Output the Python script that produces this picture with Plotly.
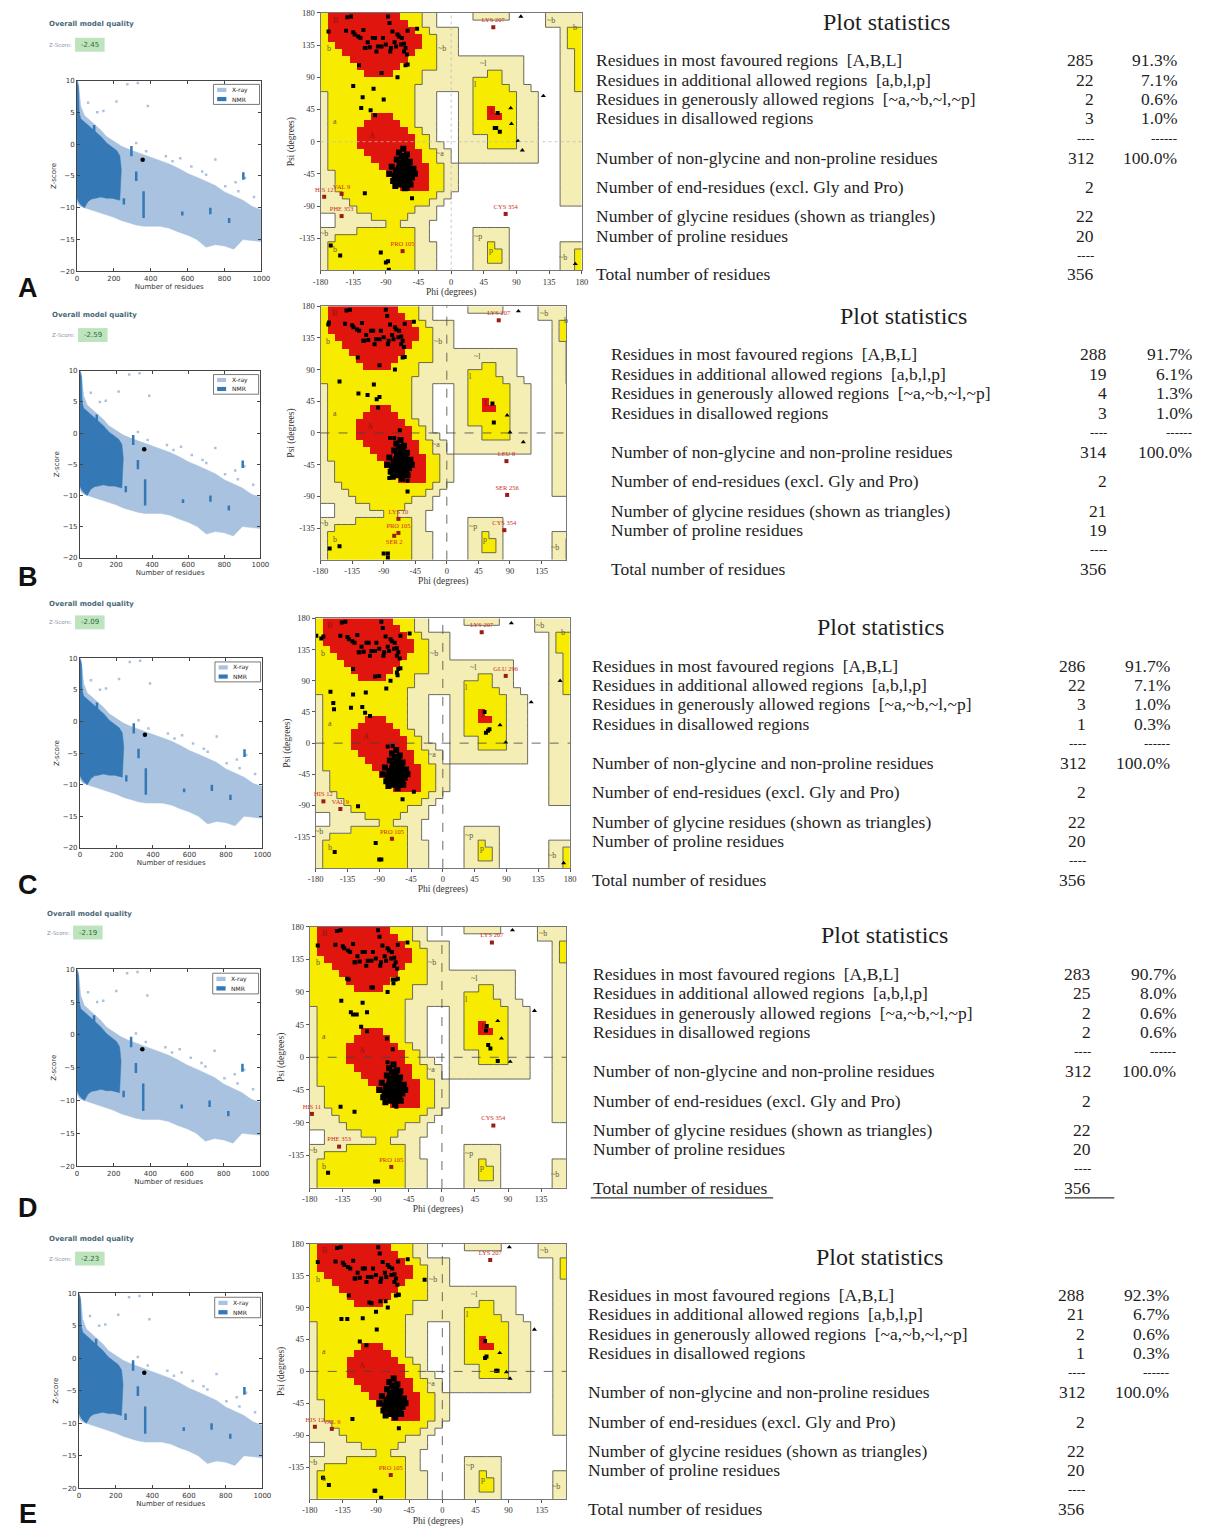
import plotly.graph_objects as go

W, H = 1214, 1530
SERIF = "Liberation Serif, Times New Roman, serif"
SANS = "DejaVu Sans, Arial, sans-serif"

# ---------------------------------------------------------------- data
PANEL_LETTERS = ["A", "B", "C", "D", "E"]
Z_SCORES = [-2.45, -2.59, -2.09, -2.19, -2.23]
MODEL_RESIDUES = 356

# ProSA reference cloud (envelopes)
XRAY_N = [0, 8, 20, 40, 60, 90, 130, 160, 200, 240, 280, 320, 360, 400, 450, 500,
          550, 600, 650, 700, 750, 800, 850, 900, 950, 1000]
XRAY_UPPER = [10, 9.5, 6, 4.5, 4, 3.2, 2.2, 1.2, 0.5, -0.3, -0.8, -1.2, -1.6, -2.0,
              -2.6, -3.1, -3.8, -4.6, -5.2, -5.8, -6.5, -7.5, -8.2, -8.8, -9.8, -10.3]
XRAY_LOWER = [-9, -9.5, -9.8, -10, -10.2, -10.4, -10.8, -11.1, -11.5, -12.0, -12.4,
              -12.7, -12.9, -12.9, -12.9, -13.2, -13.8, -14.3, -15.0, -16.2, -15.8,
              -16.0, -16.5, -15.0, -15.2, -15.3]
NMR_N = [0, 8, 12, 20, 40, 60, 80, 100, 130, 160, 190, 215, 232, 240]
NMR_UPPER = [10, 9, 5, 4, 3.5, 3, 2.5, 2, 1.2, 0.2, -0.5, -1, -1.8, -4]
NMR_LOWER = [-8.5, -9, -9.2, -9.5, -10, -9, -8.6, -8.5, -8.3, -8.5, -8.5, -8.7, -8.8, -4]
NMR_STREAK_N = [93, 254, 295, 321, 361, 571, 723, 825, 902]
NMR_STREAK_LO = [1.5, -9.5, -1.9, -5.8, -11.6, -11.2, -11.0, -12.4, -5.6]
NMR_STREAK_HI = [3.0, -8.5, -0.3, -4.3, -7.4, -10.6, -10.0, -11.6, -4.4]
XRAY_OUT_N = [143, 214, 384, 273, 330, 411, 482, 518, 750, 679, 804, 911, 875, 482,
              375, 321, 429, 60, 110, 560, 620, 700, 860, 960]
XRAY_OUT_Z = [5.2, 6.7, 6.0, 9.4, 9.6, -3.2, -1.9, -2.7, -2.4, -4.3, -6.6, -5.3, -7.4,
              -4.8, -1.1, 0.2, -2.7, 6.5, 5.0, -2.2, -3.5, -4.8, -6.0, -8.3]

# Ramachandran region map, 10 deg cells; rows psi 180->-180, cols phi -180->180
# R core, Y allowed, L generous, . disallowed
REGION_ROWS = [
    "Y" + "R"*10 + "Y"*3 + "L"*2 + "."*5 + "L"*5 + "."*5 + "L"*5,
    "Y" + "R"*11 + "Y"*2 + "L"*2 + "."*15 + "L"*5,
    "Y" + "R"*12 + "Y"*2 + "L"*4 + "."*14 + "L" + "Y"*2,
    "Y" + "R"*13 + "Y"*2 + "L"*3 + "."*14 + "L" + "Y"*2,
    "YY" + "R"*12 + "Y"*2 + "L"*3 + "."*14 + "L" + "Y"*2,
    "YYY" + "R"*10 + "Y"*3 + "L"*3 + "."*14 + "L"*2 + "Y",
    "Y"*4 + "R"*8 + "Y"*4 + "L"*12 + "."*5 + "L"*2 + "Y",
    "Y"*5 + "R"*6 + "Y"*5 + "L"*12 + "."*5 + "L"*2 + "Y",
    "Y"*6 + "R"*4 + "Y"*4 + "L"*9 + "Y"*2 + "L"*3 + "."*5 + "L"*2 + "Y",
    "Y"*14 + "L"*7 + "Y"*4 + "L"*3 + "."*5 + "L"*2 + "Y",
    "Y"*13 + "L"*8 + "Y"*5 + "L"*3 + "."*4 + "L"*2 + "Y",
    "L" + "Y"*12 + "L"*3 + "."*3 + "L"*2 + "Y"*6 + "L"*3 + "."*3 + "L"*3,
    "L" + "Y"*12 + "L"*3 + "."*3 + "L"*2 + "Y"*6 + "L"*3 + "."*3 + "L"*3,
    "L" + "Y"*12 + "L"*3 + "."*3 + "L"*2 + "Y"*2 + "R" + "Y"*3 + "L"*3 + "."*3 + "L"*3,
    "L" + "Y"*6 + "R"*3 + "Y"*3 + "L"*3 + "."*3 + "L"*2 + "Y"*2 + "R"*2 + "Y"*2 + "L"*3 + "."*3 + "L"*3,
    "L" + "Y"*5 + "R"*5 + "Y"*2 + "L"*3 + "."*3 + "L"*2 + "Y"*6 + "L"*3 + "."*3 + "L"*3,
    "L" + "Y"*4 + "R"*7 + "Y"*2 + "L"*2 + "."*3 + "L"*2 + "Y"*6 + "L"*3 + "."*3 + "L"*3,
    "L" + "Y"*4 + "R"*8 + "Y"*2 + "L" + "."*3 + "L"*4 + "Y"*4 + "L"*3 + "."*3 + "L"*3,
    "L" + "Y"*4 + "R"*8 + "Y"*2 + "L"*2 + "."*2 + "L"*4 + "Y"*4 + "L"*3 + "."*3 + "L"*3,
    "L" + "Y"*5 + "R"*8 + "Y"*2 + "L"*2 + "." + "L"*11 + "."*3 + "L"*3,
    "L" + "Y"*6 + "R"*7 + "Y"*2 + "L"*2 + "." + "L"*11 + "."*3 + "L"*3,
    "L" + "Y"*7 + "R"*7 + "Y"*2 + "L"*2 + "."*14 + "L"*3,
    "L"*2 + "Y"*7 + "R"*6 + "Y"*2 + "L"*2 + "."*14 + "L"*3,
    "L"*2 + "Y"*8 + "R"*5 + "Y"*2 + "L"*2 + "."*14 + "L"*3,
    "L"*2 + "Y"*9 + "R"*4 + "Y"*2 + "L"*2 + "."*14 + "L"*3,
    "L"*3 + "Y"*13 + "L"*2 + "."*15 + "L"*3,
    "L"*4 + "Y"*11 + "L"*2 + "."*16 + "L"*3,
    "L"*5 + "Y"*8 + "L"*3 + "."*20,
    "."*2 + "L"*5 + "Y"*5 + "L"*4 + "."*20,
    "."*2 + "L"*7 + "Y"*2 + "L"*4 + "."*21,
    "L"*5 + "Y"*8 + "L"*2 + "."*6 + "L"*5 + "."*10,
    "L"*2 + "Y"*11 + "L"*2 + "."*6 + "L"*5 + "."*10,
    "L" + "Y"*12 + "L"*3 + "."*5 + "L"*2 + "Y" + "L"*2 + "."*7 + "L"*3,
    "L" + "Y"*12 + "L"*3 + "."*5 + "L"*2 + "Y"*2 + "L" + "."*7 + "L"*2 + "Y",
    "L" + "Y"*12 + "L"*3 + "."*5 + "L"*2 + "Y"*2 + "L" + "."*7 + "L"*2 + "Y",
    "L" + "Y"*12 + "L"*3 + "."*5 + "L"*5 + "."*7 + "L"*2 + "Y",
]
REGION_TEXT = ["B", "b", "a", "A", "~b", "~a", "~l", "l", "L", "~p", "p", "~b", "b", "~b", "b", "~b"]
REGION_TEXT_PHI = [-160, -169, -160, -109, -13, -15, 44, 34, 57, 37, 55, 138, 170, -175, -160, 154]
REGION_TEXT_PSI = [170, 130, 28, 9, 130, -17, 109, 80, 42, -133, -152, 170, 160, -128, -151, -162]

# residues shared by all models (beta sheet and helix core)
BETA_PHI = [-138, -143, -169, -145, -135, -128, -125, -119, -112, -108, -105, -96, -87, -85,
            -81, -74, -72, -68, -65, -63, -69, -76, -84, -60, -47, -61, -60, -63, -127, -96,
            -74, -90, -101, -103, -118, -115, -121, -94, -83, -78, -65, -133]
BETA_PSI = [175, 174, 154, 155, 153, 147, 145, 131, 132, 145, 145, 133, 175, 166, 154, 150,
            147, 145, 137, 131, 136, 133, 126, 155, 158, 122, 108, 107, 107, 96, 90, 136, 133,
            126, 131, 139, 156, 145, 131, 139, 126, 150]
HELIX_PHI = [-65, -62, -68, -60, -66, -70, -58, -63, -67, -72, -61, -64, -69, -57, -55, -74,
             -71, -66, -60, -63, -58, -67, -62, -73, -76, -54, -59, -65, -69, -62, -78, -80,
             -70, -56, -52, -75, -68, -61, -82, -77, -64, -50, -72, -66, -85, -57, -70, -63,
             -67, -60]
HELIX_PSI = [-40, -42, -38, -45, -47, -43, -38, -35, -33, -37, -50, -52, -50, -46, -42, -45,
             -30, -28, -30, -25, -55, -57, -60, -53, -40, -50, -34, -44, -46, -37, -48, -55,
             -60, -60, -38, -25, -20, -18, -35, -62, -65, -45, -15, -10, -45, -28, -55, -47,
             -42, -40]

# model-specific residues
OTHER_A_PHI = [-135, -122, -107, -124, -111, -105, -93, -119, -54, -60, -166, -153, -97, -90, -87, -86, 64, 60, 62, 67]
OTHER_A_PSI = [78, 62, 74, 47, 44, 37, 59, -72, -79, -66, -145, -159, -155, -169, -167, -179, 40, 19, 19, 14]
OTHER_B_PHI = [-153, -126, -113, -104, -100, -96, -98, -67, -81, -75, -82, -56, -56, -167, -153, -90, -84, -84, 65, 67, -168]
OTHER_B_PSI = [73, 56, 54, 69, 48, 51, 36, 4, -7, -7, -64, -83, -68, -164, -161, -171, -177, -171, 42, 15, 157]
OTHER_C_PHI = [-179, -172, -159, -155, -154, -127, -130, -114, -109, -110, -103, -80, -90, -65, -64, -78, -71, -57, -41, -120, -153, -95, -90, -87, 59, 61, 64, 66]
OTHER_C_PSI = [155, 151, 74, 58, 49, 70, 51, 52, 73, 44, 39, 79, 97, 102, 98, -5, -4, -81, -70, -91, -157, -144, -168, -168, 45, 15, 18, 20]
OTHER_D_PHI = [-137, -108, -124, -121, -116, -102, -110, -102, -75, -67, -74, -138, -119, -62, -155, -91, -87, -67, -66, -94, -129, 61, 60, 63, 66, 76]
OTHER_D_PSI = [78, 75, 62, 59, 59, 62, 42, 36, 26, 11, -7, -68, -75, -68, -159, -171, -171, 107, 102, 96, 108, 43, 37, 17, 12, -5]
OTHER_E_PHI = [-137, -129, -108, -90, -89, -112, -103, -84, -77, -99, -24, -59, -122, -59, -162, -154, -92, -91, -83, 58, 58, 60, 73, 75]
OTHER_E_PSI = [74, 74, 75, 84, 59, 42, 37, 99, 99, 97, 129, 108, -67, -80, -150, -160, -168, -168, -178, 43, 19, 21, 1, 1]

GLY_A_PHI = [96, 127, 82, 83, 92, 98, 171]
GLY_A_PSI = [175, 64, 47, 25, 1, -12, -171]
GLY_B_PHI = [102, 86, 90, 109]
GLY_B_PSI = [173, 25, 1, -13]
GLY_C_PHI = [97, 166, 125, 81, 89, 171]
GLY_C_PSI = [173, 90, 59, 26, 1, -173]
GLY_D_PHI = [96, 126, 76, 81, 93]
GLY_D_PSI = [175, 64, 50, 26, -6]
GLY_E_PHI = [91, 125, 78, 87, 92]
GLY_E_PSI = [175, 59, 26, -1, -10]

FLAG_A_NAME = ["LYS 207", "HIS 12", "VAL 9", "PHE 353", "CYS 354", "PRO 105"]
FLAG_A_PHI = [58, -175, -151, -151, 75, -67]
FLAG_A_PSI = [160, -77, -73, -104, -101, -153]
FLAG_B_NAME = ["LYS 207", "LEU 8", "SER 256", "CYS 354", "LYS 10", "PRO 105", "SER 2"]
FLAG_B_PHI = [74, 85, 86, 82, -69, -69, -75]
FLAG_B_PSI = [160, -40, -88, -138, -122, -142, -146]
FLAG_C_NAME = ["LYS 207", "GLU 296", "HIS 12", "VAL 9", "PRO 105"]
FLAG_C_PHI = [55, 89, -169, -145, -72]
FLAG_C_PSI = [160, 97, -84, -95, -138]
FLAG_D_NAME = ["LYS 207", "HIS 11", "PHE 353", "PRO 105", "CYS 354"]
FLAG_D_PHI = [68, -177, -140, -69, 70]
FLAG_D_PSI = [158, -78, -123, -151, -94]
FLAG_E_NAME = ["LYS 207", "HIS 12", "VAL 9", "PRO 105"]
FLAG_E_PHI = [65, -173, -150, -70]
FLAG_E_PSI = [157, -78, -81, -146]

# Plot statistics
STAT_LABELS = ["Residues in most favoured regions\u00a0\u00a0[A,B,L]",
               "Residues in additional allowed regions\u00a0\u00a0[a,b,l,p]",
               "Residues in generously allowed regions\u00a0\u00a0[~a,~b,~l,~p]",
               "Residues in disallowed regions",
               "Number of non-glycine and non-proline residues",
               "Number of end-residues (excl. Gly and Pro)",
               "Number of glycine residues (shown as triangles)",
               "Number of proline residues",
               "Total number of residues"]
COUNTS_A = [285, 22, 2, 3, 312, 2, 22, 20, 356]
COUNTS_B = [288, 19, 4, 3, 314, 2, 21, 19, 356]
COUNTS_C = [286, 22, 3, 1, 312, 2, 22, 20, 356]
COUNTS_D = [283, 25, 2, 2, 312, 2, 22, 20, 356]
COUNTS_E = [288, 21, 2, 1, 312, 2, 22, 20, 356]
PCT_A = [91.3, 7.1, 0.6, 1.0, 100.0]
PCT_B = [91.7, 6.1, 1.3, 1.0, 100.0]
PCT_C = [91.7, 7.1, 1.0, 0.3, 100.0]
PCT_D = [90.7, 8.0, 0.6, 0.6, 100.0]
PCT_E = [92.3, 6.7, 0.6, 0.3, 100.0]

OTHERS = [(OTHER_A_PHI, OTHER_A_PSI), (OTHER_B_PHI, OTHER_B_PSI), (OTHER_C_PHI, OTHER_C_PSI),
          (OTHER_D_PHI, OTHER_D_PSI), (OTHER_E_PHI, OTHER_E_PSI)]
GLYS = [(GLY_A_PHI, GLY_A_PSI), (GLY_B_PHI, GLY_B_PSI), (GLY_C_PHI, GLY_C_PSI),
        (GLY_D_PHI, GLY_D_PSI), (GLY_E_PHI, GLY_E_PSI)]
FLAGS = [(FLAG_A_NAME, FLAG_A_PHI, FLAG_A_PSI), (FLAG_B_NAME, FLAG_B_PHI, FLAG_B_PSI),
         (FLAG_C_NAME, FLAG_C_PHI, FLAG_C_PSI), (FLAG_D_NAME, FLAG_D_PHI, FLAG_D_PSI),
         (FLAG_E_NAME, FLAG_E_PHI, FLAG_E_PSI)]
COUNTS = [COUNTS_A, COUNTS_B, COUNTS_C, COUNTS_D, COUNTS_E]
PCTS = [PCT_A, PCT_B, PCT_C, PCT_D, PCT_E]

# ---------------------------------------------------------------- layout (pixel positions)
POS = [
    dict(head=(40, 19), badge=(68, 98, 40), prosa=(70, 257, 76, 268), rama=(317, 582, 8, 267), phimax=180,
         letter=285, stat=(594, 1103, 1188, 891, 17)),
    dict(head=(43, 312), badge=(71, 101, 332), prosa=(73, 256, 368, 556), rama=(317, 566, 303, 558), phimax=170,
         letter=575, stat=(610, 1117, 1203, 908, 313)),
    dict(head=(40, 603), badge=(68, 98, 621), prosa=(73, 258, 657, 848), rama=(312, 570, 617, 868), phimax=180,
         letter=885, stat=(590, 1095, 1181, 885, 626)),
    dict(head=(38, 914), badge=(66, 96, 933), prosa=(70, 256, 970, 1168), rama=(306, 566, 927, 1190), phimax=169,
         letter=1210, stat=(591, 1100, 1187, 889, 936)),
    dict(head=(40, 1241), badge=(68, 98, 1261), prosa=(72, 258, 1296, 1492), rama=(306, 566, 1246, 1503), phimax=168,
         letter=1518, stat=(586, 1094, 1180, 884, 1259)),
]
ROW_OFF = [38.5, 58, 77.5, 97, 136.5, 166, 195.5, 215, 254]
DASH_OFF = [117, 234.5]

XRAY_C = "#a8c2df"
NMR_C = "#3479b6"
RED = "#e0150e"
YEL = "#f7ec00"
LIGHT = "#f4eeb4"
TXT = "#1e1e1e"
STAT_FS = 17.5

fig = go.Figure()
shapes, annos = [], []
layout = dict(width=W, height=H, margin=dict(l=0, r=0, t=0, b=0), paper_bgcolor="white",
              plot_bgcolor="white", showlegend=False)


def px(x):
    return x / W


def py(y):
    return 1 - y / H


def akey(p, n):
    return p + "axis" + ("" if n == 1 else str(n))


def aref(p, n):
    return p + ("" if n == 1 else str(n))


def note(x, y, text, size, color, family=SERIF, xanchor="left", xref="paper", yref="paper"):
    annos.append(dict(xref=xref, yref=yref, x=x, y=y, text=text, showarrow=False,
                      xanchor=xanchor, yanchor="middle", font=dict(family=family, size=size, color=color)))


code = {".": 0, "L": 1, "Y": 2, "R": 3}
grid = [[code[ch] for ch in (r + "." * 36)[:36]] for r in REGION_ROWS[:36]]
cx = [-175 + 10 * c for c in range(36)]
cy = [175 - 10 * r for r in range(36)]
bx, by = [], []
for r in range(36):
    for c in range(36):
        v = grid[r][c]
        if c < 35:
            w = grid[r][c + 1]
            if v != w and {v, w} != {2, 3}:
                xe = -180 + 10 * (c + 1)
                bx += [xe, xe, None]
                by += [180 - 10 * r, 170 - 10 * r, None]
        if r < 35:
            w = grid[r + 1][c]
            if v != w and {v, w} != {2, 3}:
                ye = 170 - 10 * r
                bx += [-180 + 10 * c, -170 + 10 * c, None]
                by += [ye, ye, None]

cscale = [[0, "white"], [0.1667, "white"], [0.1667, LIGHT], [0.5, LIGHT], [0.5, YEL],
          [0.8333, YEL], [0.8333, RED], [1, RED]]

for i, letter in enumerate(PANEL_LETTERS):
    P = POS[i]
    na, nb = 2 * i + 1, 2 * i + 2
    xa, ya, xb, yb = aref("x", na), aref("y", na), aref("x", nb), aref("y", nb)

    # ----- ProSA panel
    l, r, t, b = P["prosa"]
    layout[akey("x", na)] = dict(domain=[px(l), px(r)], anchor=ya, range=[0, 1000],
                                 tickvals=[0, 200, 400, 600, 800, 1000], ticks="inside", ticklen=3,
                                 tickfont=dict(family=SANS, size=7, color="#333"), showline=True,
                                 mirror="ticks", linecolor="#444", linewidth=1, showgrid=False,
                                 zeroline=False,
                                 title=dict(text="Number of residues", font=dict(family=SANS, size=7, color="#333"),
                                            standoff=0))
    layout[akey("y", na)] = dict(domain=[py(b), py(t)], anchor=xa, range=[-20, 10],
                                 tickvals=[-20, -15, -10, -5, 0, 5, 10],
                                 ticktext=["\u221220", "\u221215", "\u221210", "\u22125", "0", "5", "10"],
                                 ticks="inside", ticklen=3, tickfont=dict(family=SANS, size=7, color="#333"),
                                 showline=True, mirror="ticks", linecolor="#444", linewidth=1, showgrid=False,
                                 zeroline=False,
                                 title=dict(text="Z-score", font=dict(family=SANS, size=7, color="#333"), standoff=2))
    fig.add_trace(go.Scatter(x=XRAY_N + XRAY_N[::-1], y=XRAY_UPPER + XRAY_LOWER[::-1], fill="toself",
                             fillcolor=XRAY_C, line=dict(width=0.5, color=XRAY_C), mode="lines",
                             xaxis=xa, yaxis=ya, hoverinfo="skip"))
    fig.add_trace(go.Scatter(x=XRAY_OUT_N, y=XRAY_OUT_Z, mode="markers",
                             marker=dict(symbol="square", size=2.5, color=XRAY_C), xaxis=xa, yaxis=ya))
    fig.add_trace(go.Scatter(x=NMR_N + NMR_N[::-1], y=NMR_UPPER + NMR_LOWER[::-1], fill="toself",
                             fillcolor=NMR_C, line=dict(width=0.5, color=NMR_C), mode="lines",
                             xaxis=xa, yaxis=ya, hoverinfo="skip"))
    sx, sy = [], []
    for n_, lo, hi in zip(NMR_STREAK_N, NMR_STREAK_LO, NMR_STREAK_HI):
        sx += [n_, n_, None]
        sy += [lo, hi, None]
    fig.add_trace(go.Scatter(x=sx, y=sy, mode="lines", line=dict(color=NMR_C, width=2.5),
                             xaxis=xa, yaxis=ya))
    fig.add_trace(go.Scatter(x=[MODEL_RESIDUES], y=[Z_SCORES[i]], mode="markers",
                             marker=dict(symbol="circle", size=4.5, color="black"), xaxis=xa, yaxis=ya))
    # legend
    dx, dy = f"{xa} domain", f"{ya} domain"
    shapes.append(dict(type="rect", xref=dx, yref=dy, x0=0.74, x1=0.99, y0=0.875, y1=0.98,
                       line=dict(color="#555", width=0.8), fillcolor="white"))
    shapes.append(dict(type="rect", xref=dx, yref=dy, x0=0.76, x1=0.81, y0=0.94, y1=0.962,
                       line=dict(width=0), fillcolor=XRAY_C))
    shapes.append(dict(type="rect", xref=dx, yref=dy, x0=0.76, x1=0.81, y0=0.892, y1=0.914,
                       line=dict(width=0), fillcolor=NMR_C))
    note(0.83, 0.951, "X-ray", 6, "#222", SANS, "left", dx, dy)
    note(0.83, 0.903, "NMR", 6, "#222", SANS, "left", dx, dy)
    # header
    hx, hy = P["head"]
    note(px(hx), py(hy), "<b>Overall model quality</b>", 7, "#4a6878", SANS)
    b0, b1, byc = P["badge"]
    note(px(hx), py(byc), "Z-Score:", 5.5, "#8a98a8", SANS)
    shapes.append(dict(type="rect", xref="paper", yref="paper", x0=px(b0), x1=px(b1), y0=py(byc + 7),
                       y1=py(byc - 7), line=dict(width=0), fillcolor="#bde4bd"))
    note(px((b0 + b1) / 2), py(byc), f"{Z_SCORES[i]:.2f}", 7, "#2f6b3a", SANS, "center")
    note(px(20), py(P["letter"]), f"<b>{letter}</b>", 27, "#111", "Liberation Sans, Arial, sans-serif", "center")

    # ----- Ramachandran panel
    l, r, t, b = P["rama"]
    tv = [-180, -135, -90, -45, 0, 45, 90, 135, 180]
    layout[akey("x", nb)] = dict(domain=[px(l), px(r)], anchor=yb, range=[-180, P["phimax"]],
                                 tickvals=tv, ticktext=[str(v) for v in tv], ticks="outside", ticklen=3,
                                 tickcolor="#555", tickfont=dict(family=SERIF, size=8.5, color="#333"),
                                 showline=True, mirror=True, linecolor="#777", linewidth=1, showgrid=False,
                                 zeroline=False,
                                 title=dict(text="Phi (degrees)", font=dict(family=SERIF, size=9.5, color="#333"),
                                            standoff=2))
    tvy = [-135, -90, -45, 0, 45, 90, 135, 180]
    layout[akey("y", nb)] = dict(domain=[py(b), py(t)], anchor=xb, range=[-180, 180],
                                 tickvals=tvy, ticktext=[str(v) for v in tvy], ticks="outside", ticklen=3,
                                 tickcolor="#555", tickfont=dict(family=SERIF, size=8.5, color="#333"),
                                 showline=True, mirror=True, linecolor="#777", linewidth=1, showgrid=False,
                                 zeroline=False,
                                 title=dict(text="Psi (degrees)", font=dict(family=SERIF, size=9.5, color="#333"),
                                            standoff=2))
    fig.add_trace(go.Heatmap(x=cx, y=cy, z=grid, zmin=0, zmax=3, colorscale=cscale, showscale=False,
                             xaxis=xb, yaxis=yb, hoverinfo="skip"))
    fig.add_trace(go.Scatter(x=bx, y=by, mode="lines", line=dict(color="#5a5a50", width=0.9),
                             xaxis=xb, yaxis=yb, hoverinfo="skip"))
    zl = dict(color="#bbbbbb", width=0.8, dash="dot") if i == 0 else dict(color="#444", width=0.8, dash="dash")
    shapes.append(dict(type="line", xref=xb, yref=f"{yb} domain", x0=0, x1=0, y0=0, y1=1, line=zl))
    shapes.append(dict(type="line", xref=f"{xb} domain", yref=yb, x0=0, x1=1, y0=0, y1=0, line=zl))
    for txt, ph, ps in zip(REGION_TEXT, REGION_TEXT_PHI, REGION_TEXT_PSI):
        col = "#8a1a10" if txt in ("A", "B", "L") else "#5b5a3a"
        note(ph, ps, txt, 8, col, SERIF, "center", xb, yb)
    fig.add_trace(go.Scatter(x=BETA_PHI, y=BETA_PSI, mode="markers",
                             marker=dict(symbol="square", size=4, color="black"), xaxis=xb, yaxis=yb))
    fig.add_trace(go.Scatter(x=HELIX_PHI, y=HELIX_PSI, mode="markers",
                             marker=dict(symbol="square", size=6, color="black"), xaxis=xb, yaxis=yb))
    ophi, opsi = OTHERS[i]
    fig.add_trace(go.Scatter(x=ophi, y=opsi, mode="markers",
                             marker=dict(symbol="square", size=4, color="black"), xaxis=xb, yaxis=yb))
    gphi, gpsi = GLYS[i]
    fig.add_trace(go.Scatter(x=gphi, y=gpsi, mode="markers",
                             marker=dict(symbol="triangle-up", size=4.5, color="black"), xaxis=xb, yaxis=yb))
    fname, fphi, fpsi = FLAGS[i]
    tpos = ["bottom center" if nm == "SER 2" else "top center" for nm in fname]
    fig.add_trace(go.Scatter(x=fphi, y=fpsi, mode="markers+text", text=fname, textposition=tpos,
                             textfont=dict(family=SERIF, size=6.5, color="#d02a20"),
                             marker=dict(symbol="square", size=4, color="#9a1c14"), xaxis=xb, yaxis=yb,
                             cliponaxis=False))

    # ----- Plot statistics table
    tl, nr, pr, tcx, ty = P["stat"]
    note(px(tcx), py(ty), "Plot statistics", 24, TXT, SERIF, "center")
    for k, (lab, off) in enumerate(zip(STAT_LABELS, ROW_OFF)):
        yy = py(ty + off)
        note(px(tl), yy, lab, STAT_FS, TXT)
        note(px(nr), yy, str(COUNTS[i][k]), STAT_FS, TXT, SERIF, "right")
        if k < 5:
            note(px(pr), yy, f"{PCTS[i][k]:.1f}%", STAT_FS, TXT, SERIF, "right")
    for d, off in enumerate(DASH_OFF):
        yy = py(ty + off)
        note(px(nr), yy, "----", 13, TXT, SERIF, "right")
        if d == 0:
            note(px(pr), yy, "------", 13, TXT, SERIF, "right")
    if letter == "D":
        uy = py(ty + ROW_OFF[-1] + 10)
        shapes.append(dict(type="line", xref="paper", yref="paper", x0=px(tl), x1=px(tl + 185), y0=uy, y1=uy,
                           line=dict(color="#333", width=1.2)))
        shapes.append(dict(type="line", xref="paper", yref="paper", x0=px(nr - 28), x1=px(nr + 22), y0=uy,
                           y1=uy, line=dict(color="#333", width=1.2)))

layout["shapes"] = shapes
layout["annotations"] = annos
fig.update_layout(**layout)
fig.write_html("out.html", config={"displayModeBar": False},
               post_script="document.body.style.margin='0px';document.body.style.overflow='hidden';")
